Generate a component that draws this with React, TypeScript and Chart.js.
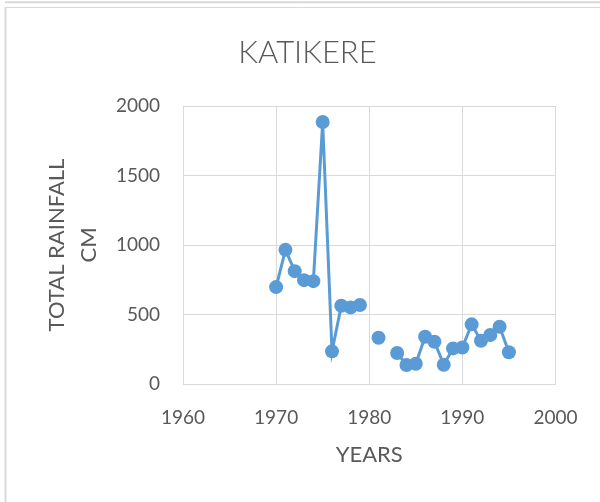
import React, { useEffect, useRef } from "react";
import { Chart, registerables } from "chart.js";

Chart.register(...registerables);

const chartTitle = "KATIKERE";
const xAxisTitle = "YEARS";
const yAxisTitle = ["TOTAL RAINFALL", "CM"];

const years = [1970, 1971, 1972, 1973, 1974, 1975, 1976, 1977, 1978, 1979, 1980, 1981, 1982, 1983, 1984, 1985, 1986, 1987, 1988, 1989, 1990, 1991, 1992, 1993, 1994, 1995];
const rainfall: (number | null)[] = [697, 965, 812, 747, 740, 1885, 235, 563, 551, 568, null, 333, null, 223, 137, 146, 340, 304, 139, 256, 263, 429, 311, 352, 412, 228];

const xTicks = [1960, 1970, 1980, 1990, 2000];
const yTicks = [0, 500, 1000, 1500, 2000];

const FONT = "Lato, 'Open Sans', 'Liberation Sans', sans-serif";
const TEXT = "#595959";
const GRID = "#d9d9d9";
const BLUE = "#5b9bd5";

const framePlugin = {
  id: "frame",
  beforeDraw(chart: any) {
    const ctx = chart.ctx;
    ctx.save();
    ctx.fillStyle = "#ffffff";
    ctx.fillRect(0, 0, chart.width, chart.height);
    ctx.strokeStyle = GRID;
    ctx.lineWidth = 2;
    ctx.beginPath();
    ctx.moveTo(5, 2.3);
    ctx.lineTo(chart.width, 2.3);
    ctx.stroke();
    ctx.beginPath();
    ctx.moveTo(5.5, chart.height);
    ctx.lineTo(5.5, 7);
    ctx.stroke();
    ctx.lineWidth = 1;
    ctx.beginPath();
    ctx.moveTo(5, 7.5);
    ctx.lineTo(chart.width, 7.5);
    ctx.stroke();
    ctx.restore();
  },
  afterDraw(chart: any) {
    const ctx = chart.ctx;
    ctx.save();
    ctx.fillStyle = TEXT;
    ctx.font = `300 31px ${FONT}`;
    ctx.textAlign = "center";
    ctx.textBaseline = "alphabetic";
    ctx.fillText(chartTitle, 307.5, 63.3);
    ctx.restore();
  },
};

export default function App() {
  const ref = useRef<HTMLCanvasElement | null>(null);

  useEffect(() => {
    if (!ref.current) return;
    const chart = new Chart(ref.current, {
      type: "line",
      data: {
        datasets: [
          {
            data: years.map((y, i) => ({ x: y, y: rainfall[i] })) as any,
            borderColor: BLUE,
            backgroundColor: BLUE,
            borderWidth: 3,
            pointRadius: 7,
            pointBorderWidth: 0,
            pointBackgroundColor: BLUE,
            spanGaps: false,
            tension: 0,
          },
        ],
      },
      options: {
        animation: false,
        responsive: false,
        layout: { padding: { left: 0, right: 42, top: 106, bottom: 0 } },
        plugins: {
          legend: { display: false },
          tooltip: { enabled: false },
          title: { display: false },
        },
        scales: {
          x: {
            type: "linear",
            min: 1960,
            max: 2000,
            afterBuildTicks: (s: any) => {
              s.ticks = xTicks.map((v) => ({ value: v }));
            },
            afterFit: (s: any) => {
              s.height = 118;
            },
            grid: { color: GRID, lineWidth: 1, drawTicks: false },
            border: { color: GRID, width: 1 },
            ticks: {
              color: TEXT,
              padding: 22.5,
              font: { family: FONT, size: 19, lineHeight: 1.2 },
              callback: (v: any) => String(v),
              maxRotation: 0,
            },
            title: {
              display: true,
              text: xAxisTitle,
              color: TEXT,
              font: { family: FONT, size: 22, lineHeight: 1.2 },
              padding: { top: 0, bottom: 33.8 },
            },
          },
          y: {
            type: "linear",
            min: 0,
            max: 2000,
            afterBuildTicks: (s: any) => {
              s.ticks = yTicks.map((v) => ({ value: v }));
            },
            afterFit: (s: any) => {
              s.width = 183;
            },
            grid: { color: GRID, lineWidth: 1, drawTicks: false },
            border: { color: GRID, width: 1 },
            ticks: {
              color: TEXT,
              padding: 23,
              font: { family: FONT, size: 19, lineHeight: 1.2 },
              callback: (v: any) => String(v),
            },
            title: {
              display: true,
              text: yAxisTitle,
              color: TEXT,
              font: { family: FONT, size: 22, lineHeight: 32 / 22 },
              padding: { top: 40.5, bottom: 0 },
            },
          },
        },
      },
      plugins: [framePlugin],
    });
    return () => chart.destroy();
  }, []);

  return (
    <div style={{ position: "absolute", left: 0, top: 0, width: 600, height: 502 }}>
      <canvas ref={ref} width={600} height={502} style={{ display: "block", width: 600, height: 502 }} />
    </div>
  );
}
